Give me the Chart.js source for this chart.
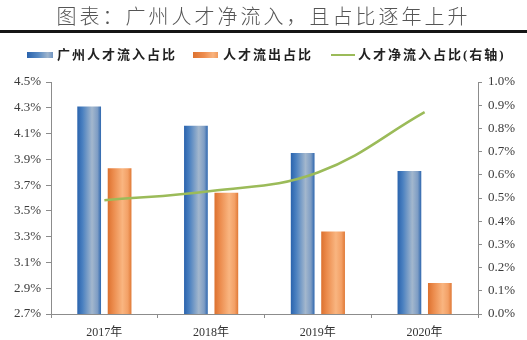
<!DOCTYPE html>
<html>
<head>
<meta charset="utf-8">
<script src="https://cdn.jsdelivr.net/npm/chart.js@4/dist/chart.umd.min.js"></script>
<style>
  html, body { margin: 0; padding: 0; background: #fff; }
  #wrap { position: relative; width: 527px; height: 340px; overflow: hidden; }
  #chart { position: absolute; left: 0; top: 0; }
  #title { position: absolute; left: 0; top: 3px; width: 527px; text-align: center;
    font-family: "Noto Sans CJK SC", sans-serif; font-weight: 300; font-size: 20px;
    letter-spacing: 3px; line-height: 26px; color: #555; white-space: nowrap; }
  #rule { position: absolute; left: 0; top: 30px; width: 527px; height: 3px; background: #151515; }
  .lg-text { position: absolute; top: 46px; height: 18px; line-height: 18px;
    font-family: "Liberation Serif", "Noto Sans CJK SC", serif; font-weight: bold; font-size: 13px;
    letter-spacing: 2px; color: #222; white-space: nowrap; }
  .lg-box { position: absolute; top: 52px; height: 6px; width: 26px; }
</style>
</head>
<body>
<div id="wrap">
  <canvas id="chart" width="527" height="340"></canvas>
  <div id="title">图表：广州人才净流入，且占比逐年上升</div>
  <div id="rule"></div>
  <div class="lg-box" style="left:27px;background:linear-gradient(90deg,#2A63AD,#5A8BC3 45%,#9FB5CD 80%,#6F94C2);"></div>
  <div class="lg-text" id="lg1" style="left:57px;"></div>
  <div class="lg-box" style="left:193px;width:25px;background:linear-gradient(90deg,#DD7230,#EE8D4F 45%,#F9B47F 80%,#F09A5C);"></div>
  <div class="lg-text" id="lg2" style="left:223px;"></div>
  <div style="position:absolute;left:331px;top:54px;width:24px;height:2px;background:#9BBB59;"></div>
  <div class="lg-text" id="lg3" style="left:358px;"></div>
</div>
<script>
// ---- data ----
const categories = ['2017年', '2018年', '2019年', '2020年'];
const seriesNames = ['广州人才流入占比', '人才流出占比', '人才净流入占比(右轴)'];
const inflowShare = [4.31, 4.16, 3.95, 3.81];     // left axis, %
const outflowShare = [3.83, 3.64, 3.34, 2.94];    // left axis, %
const netInflowShare = [0.49, 0.53, 0.61, 0.87];  // right axis, %
const leftAxisRange = [2.7, 4.5, 0.2];
const rightAxisRange = [0.0, 1.0, 0.1];

document.getElementById('lg1').textContent = seriesNames[0];
document.getElementById('lg2').textContent = seriesNames[1];
document.getElementById('lg3').textContent = seriesNames[2];

const CAT_PCT = 0.57;
const BAR_PCT = 0.78;
const blueStops = [[0, '#2A63AD'], [0.22, '#4A80C0'], [0.62, '#A3B7CD'], [0.85, '#7E9DC4'], [1, '#2E67AF']];
const orangeStops = [[0, '#DC712F'], [0.22, '#EB8A4B'], [0.62, '#F9B580'], [0.85, '#F3A066'], [1, '#E07936']];

function barGradient(ctx, stops, slot) {
  const chart = ctx.chart;
  const xs = chart.scales && chart.scales.x;
  if (ctx.type !== 'data' || !xs || !(xs.width > 0)) return stops[0][1];
  const catW = xs.width / categories.length;
  const center = xs.getPixelForValue(ctx.dataIndex);
  const groupW = catW * CAT_PCT;
  const slotW = groupW / 2;
  const barW = slotW * BAR_PCT;
  const left = center - groupW / 2 + slotW * slot + (slotW - barW) / 2;
  if (!isFinite(left)) return stops[0][1];
  const g = chart.ctx.createLinearGradient(left, 0, left + barW, 0);
  stops.forEach(s => g.addColorStop(s[0], s[1]));
  return g;
}

const tickFont = { family: '"Liberation Serif", "Noto Sans CJK SC", serif', size: 13 };
const pct = v => Number(v).toFixed(1) + '%';

new Chart(document.getElementById('chart'), {
  type: 'bar',
  data: {
    labels: categories,
    datasets: [
      {
        label: seriesNames[0], data: inflowShare, yAxisID: 'y', order: 1,
        backgroundColor: ctx => barGradient(ctx, blueStops, 0),
        barPercentage: BAR_PCT, categoryPercentage: CAT_PCT, borderWidth: 0
      },
      {
        label: seriesNames[1], data: outflowShare, yAxisID: 'y', order: 1,
        backgroundColor: ctx => barGradient(ctx, orangeStops, 1),
        barPercentage: BAR_PCT, categoryPercentage: CAT_PCT, borderWidth: 0
      },
      {
        type: 'line', label: seriesNames[2], data: netInflowShare, yAxisID: 'y1', order: 0,
        borderColor: '#9BBB59', borderWidth: 2.5, tension: 0.4, pointRadius: 0, fill: false
      }
    ]
  },
  options: {
    responsive: false,
    animation: false,
    events: [],
    layout: { padding: { top: 82, left: 0, right: 0, bottom: 0 } },
    plugins: { legend: { display: false }, tooltip: { enabled: false }, title: { display: false } },
    scales: {
      x: {
        grid: { display: true, drawOnChartArea: false, drawTicks: true, tickLength: 4, color: '#8c8c8c', offset: true },
        border: { display: true, color: '#8c8c8c', width: 1 },
        ticks: { color: '#333', font: { family: tickFont.family, size: 12 }, padding: 8, maxRotation: 0 },
        afterFit: s => { s.height = 26; }
      },
      y: {
        position: 'left',
        min: leftAxisRange[0], max: leftAxisRange[1],
        grid: { display: true, drawOnChartArea: false, drawTicks: true, tickLength: 5, color: '#8c8c8c' },
        border: { display: true, color: '#8c8c8c', width: 1 },
        ticks: { stepSize: leftAxisRange[2], color: '#3a3a3a', font: tickFont, padding: 5, callback: pct },
        afterFit: s => { s.width = 51; }
      },
      y1: {
        position: 'right',
        min: rightAxisRange[0], max: rightAxisRange[1],
        grid: { display: true, drawOnChartArea: false, drawTicks: true, tickLength: 4, color: '#8c8c8c' },
        border: { display: true, color: '#8c8c8c', width: 1 },
        ticks: { stepSize: rightAxisRange[2], color: '#3a3a3a', font: tickFont, padding: 6, callback: pct },
        afterFit: s => { s.width = 49; }
      }
    }
  }
});
</script>
</body>
</html>
